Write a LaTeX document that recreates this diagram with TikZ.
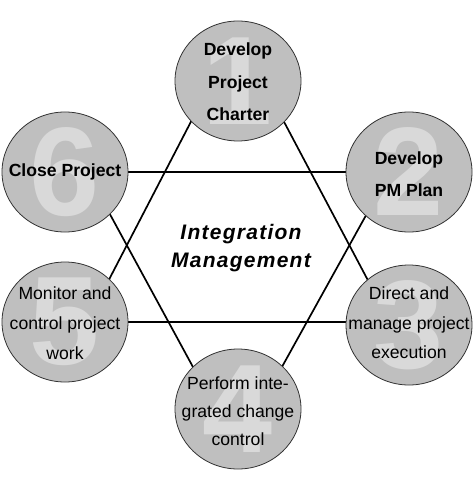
\documentclass[tikz,border=0pt]{standalone}
\usepackage{fontspec}
\setmainfont{Liberation Sans}
\newfontfamily\centerfont{Liberation Sans}[LetterSpace=6]
\usetikzlibrary{shapes.geometric}
\begin{document}
\begin{tikzpicture}[x=1pt,y=-1pt,
  proc/.style={ellipse, draw=black!80, line width=0.8pt, fill=black!25,
    minimum width=126pt, minimum height=120pt, inner sep=0pt},
  num/.style={text=black!15, inner sep=0pt,
    font=\fontsize{126}{126}\selectfont\bfseries},
  lblb/.style={align=center, inner sep=0pt,
    font=\fontsize{17.6}{32.5}\selectfont\bfseries},
  lblr/.style={align=center, inner sep=0pt,
    font=\fontsize{17.6}{29.5}\selectfont},
  conn/.style={draw=black, line width=1.7pt, line join=miter}]
\useasboundingbox[fill=white] (0,0) rectangle (474,486);
% hexagram
\coordinate (a1) at (237,33);
\coordinate (a2) at (87,322);
\coordinate (a3) at (390,322);
\coordinate (b1) at (87,172);
\coordinate (b2) at (390,172);
\coordinate (b3) at (237,448);
\draw[conn] (a1) -- (a2) -- (a3) -- cycle;
\draw[conn] (b1) -- (b2) -- (b3) -- cycle;
% circles
\node[proc] (c1) at (238,81) {};
\node[proc] (c2) at (409,172) {};
\node[proc] (c3) at (409,325) {};
\node[proc] (c4) at (238,409) {};
\node[proc] (c5) at (65,322) {};
\node[proc] (c6) at (65,172) {};
% watermark numbers
\node[num] (n1) at (c1) {1};
\node[num] (n2) at (c2) {2};
\node[num] (n3) at (c3) {3};
\node[num] (n4) at (c4) {4};
\node[num] (n5) at (c5) {5};
\node[num] (n6) at (c6) {6};
% labels
\node[lblb] (t1) at (238,82) {Develop\\Project\\Charter};
\node[lblb] (t2) at (409,174) {Develop\\PM Plan};
\node[lblr] (t3) at (409,323) {Direct and\\manage project\\execution};
\node[lblr, font=\fontsize{17.6}{28}\selectfont] (t4) at (238,411) {Perform inte-\\grated change\\control};
\node[lblr, font=\fontsize{17.6}{30}\selectfont] (t5) at (65,323) {Monitor and\\control project\\work};
\node[lblb] (t6) at (65,172) {Close Project};
% center
\node[align=center, inner sep=0pt, font=\fontsize{21}{28.5}\selectfont\centerfont\bfseries\itshape] (ctr) at (241,248) {Integration\\Management};
\end{tikzpicture}
\end{document}
